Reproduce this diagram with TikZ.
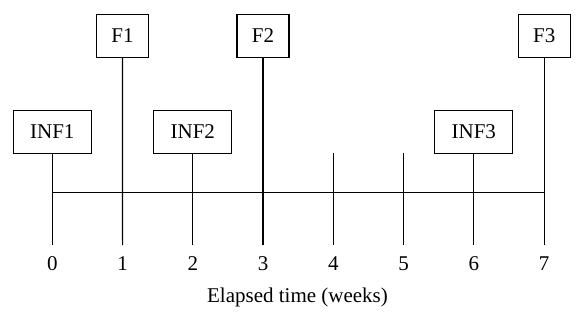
\documentclass[tikz,border=0pt]{standalone}
\usepackage{fontspec}
\setmainfont{Liberation Serif}
\begin{document}
\begin{tikzpicture}[x=1pt,y=-1pt,
  lbl/.style={font=\fontsize{21}{24}\selectfont, inner sep=0pt},
  evbox/.style={draw, line width=1.2pt, minimum height=43pt, inner sep=0pt, font=\fontsize{21}{24}\selectfont},
  fbox/.style={evbox, minimum width=52pt},
  ibox/.style={evbox, minimum width=78pt},
  axis/.style={line width=1.2pt}]
\useasboundingbox (0,0) rectangle (585,320);
% boxes
\node[fbox] (F1) at (122.5,35.7) {F1};
\node[fbox] (F2) at (263,35.7) {F2};
\node[fbox] (F3) at (544.2,35.7) {F3};
\node[ibox] (INF1) at (52.3,131.7) {INF1};
\node[ibox] (INF2) at (192.8,131.7) {INF2};
\node[ibox] (INF3) at (473.8,131.7) {INF3};
% tick coordinates
\foreach \i/\x in {0/52.3,1/122.6,2/192.8,3/263,4/333.3,5/403.6,6/473.8,7/544.2}{
  \coordinate (h\i) at (\x,192.3);
  \coordinate (b\i) at (\x,245);
  \node[lbl] (l\i) at (\x,264) {\i};
}
\coordinate (t4) at (333.3,153.3);
\coordinate (t5) at (403.6,153.3);
% axis
\draw[axis] (h0) -- (h7);
\draw[axis] (INF1.south) -- (b0);
\draw[axis] (F1.south) -- (b1);
\draw[axis] (INF2.south) -- (b2);
\draw[axis] (F2.south) -- (b3);
\draw[axis] (t4) -- (b4);
\draw[axis] (t5) -- (b5);
\draw[axis] (INF3.south) -- (b6);
\draw[axis] (F3.south) -- (b7);
\node[lbl] (title) at (297.5,297) {Elapsed time (weeks)};
\end{tikzpicture}
\end{document}
